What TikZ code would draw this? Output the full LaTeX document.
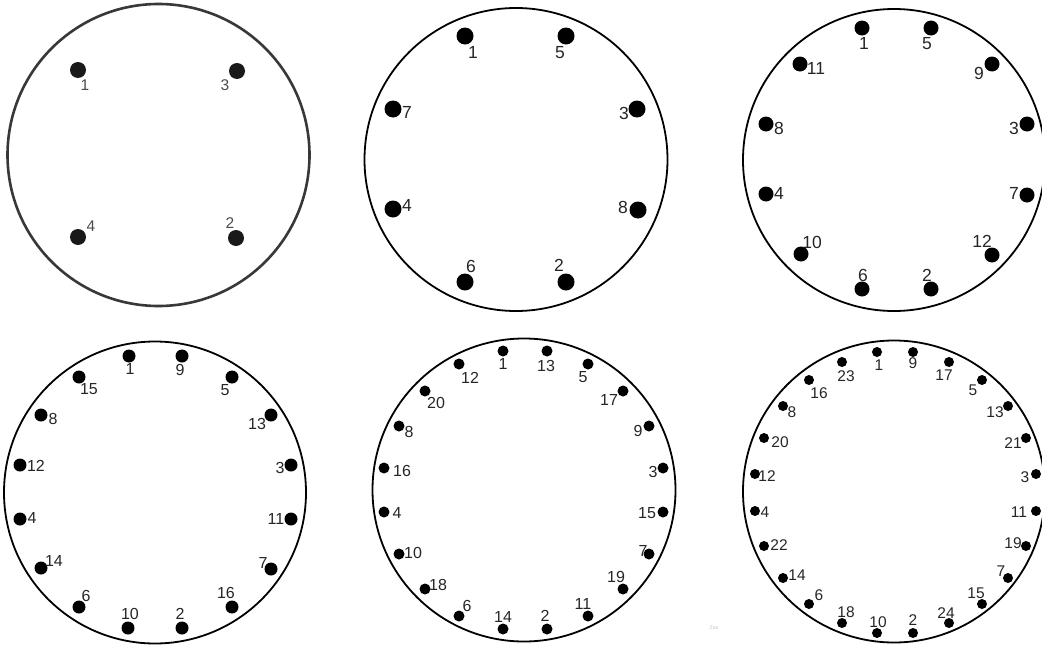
\documentclass[tikz,border=0pt]{standalone}
\usepackage{fontspec}
\setmainfont{Liberation Sans}
\begin{document}
\begin{tikzpicture}[x=1pt,y=-1pt,
  ring/.style={circle,draw=black,line width=1.8pt,inner sep=0pt},
  ringgray/.style={circle,draw=black!78,line width=2.6pt,inner sep=0pt},
  pin/.style={circle,fill=black,inner sep=0pt,minimum size=#1},
  lab/.style={inner sep=0pt,text=black!85,font=\fontsize{#1}{#1}\selectfont}]
\useasboundingbox (0,0) rectangle (1042,648);
\fill[white] (0,0) rectangle (1042,648);
% circles
\node[ringgray,minimum size=302pt] (C1) at (158.5,155) {};
\node[ring,minimum size=303pt] (C2) at (516,159.5) {};
\node[ring,minimum size=302pt] (C3) at (894,160) {};
\node[ring,minimum size=302pt] (C4) at (155,492.5) {};
\node[ring,minimum size=303pt] (C5) at (524,490) {};
\node[ring,minimum size=302pt] (C6) at (894,491.5) {};
% circle 1
\foreach \n/\dx/\dy/\lx/\ly in {1/78/70/85/85, 3/237/71/225/85, 4/78/237/91/226, 2/236/238/230/223}{
  \node[pin=16pt,fill=black!90] (c1d\n) at (\dx,\dy) {};
  \node[lab=15.5pt,text=black!70] (c1l\n) at (\lx,\ly) {\n};
}
% circle 2
\foreach \n/\dx/\dy/\lx/\ly in {1/465/36/473/52, 5/566/36/560/53, 7/393/109/407/112, 3/637/109/624/113,
  4/393/209/407/205, 8/638/210/623/207, 6/465/282/471/266, 2/566/282/559/265}{
  \node[pin=17pt] (c2d\n) at (\dx,\dy) {};
  \node[lab=17.5pt] (c2l\n) at (\lx,\ly) {\n};
}
% circle 3
\foreach \n/\dx/\dy/\lx/\ly in {1/862/28/864/43, 5/931/28/927/44, 11/800/64/816/68, 9/992/64/979/73,
  8/766/124/779/128, 3/1027/124/1014/128, 4/766/194/779/193, 7/1027/195/1014/193,
  10/801/254/812/242, 12/992/255/982/241, 6/862/289/863/275, 2/931/289/927/275}{
  \node[pin=15pt] (c3d\n) at (\dx,\dy) {};
  \node[lab=17.5pt] (c3l\n) at (\lx,\ly) {\n};
}
% circle 4
\foreach \n/\dx/\dy/\lx/\ly in {1/129/356/130/369, 9/182/356/180/370, 15/79/377/89/389, 5/232/377/225/390,
  8/41/415/53/419, 13/271/415/257/424, 12/20/465/36/466, 3/291/465/280/468,
  4/20/519/32/518, 11/291/519/276/519, 14/41/568/54/561, 7/271/569/263/563,
  6/79/607/86/596, 16/232/607/226/593, 10/128/628/130/614, 2/182/628/180/614}{
  \node[pin=13pt] (c4d\n) at (\dx,\dy) {};
  \node[lab=16pt] (c4l\n) at (\lx,\ly) {\n};
}
% circle 5
\foreach \n/\dx/\dy/\lx/\ly in {1/503/351/503/364, 13/547/351/546/366, 12/459/364/470/378, 5/588/364/583/377,
  20/425/391/436/403, 17/623/391/609/400, 8/399/426/409/432, 9/649/426/638/431,
  16/384/468/402/471, 3/663/468/653/472, 4/384/512/397/513, 15/663/512/647/513,
  10/399/554/413/553, 7/649/554/643/551, 18/425/589/438/585, 19/623/589/616/577,
  6/459/616/467/606, 11/588/616/583/604, 14/503/629/503/617, 2/547/629/545/616}{
  \node[pin=11pt] (c5d\n) at (\dx,\dy) {};
  \node[lab=16pt] (c5l\n) at (\lx,\ly) {\n};
}
% circle 6
\foreach \n/\dx/\dy/\lx/\ly in {1/877/352/879/365, 9/913/352/913/363, 23/842/362/846/376, 17/949/362/944/375,
  16/809/380/819/393, 5/982/380/973/390, 8/783/406/792/412, 13/1008/406/995/412,
  20/764/438/780/442, 21/1026/438/1013/443, 12/755/474/767/476, 3/1036/474/1025/477,
  4/755/511/765/512, 11/1036/511/1019/512, 22/764/546/779/545, 19/1026/546/1013/543,
  14/783/578/797/575, 7/1008/578/1001/571, 6/809/604/819/595, 15/982/604/976/593,
  18/842/623/846/612, 24/949/623/946/613, 10/877/633/878/622, 2/913/633/913/620}{
  \node[pin=10pt] (c6d\n) at (\dx,\dy) {};
  \node[lab=15.5pt] (c6l\n) at (\lx,\ly) {\n};
}
\node[inner sep=0pt,text=black!25,font=\fontsize{5}{5}\selectfont] (zoo) at (714,628) {Zoo};
\end{tikzpicture}
\end{document}
